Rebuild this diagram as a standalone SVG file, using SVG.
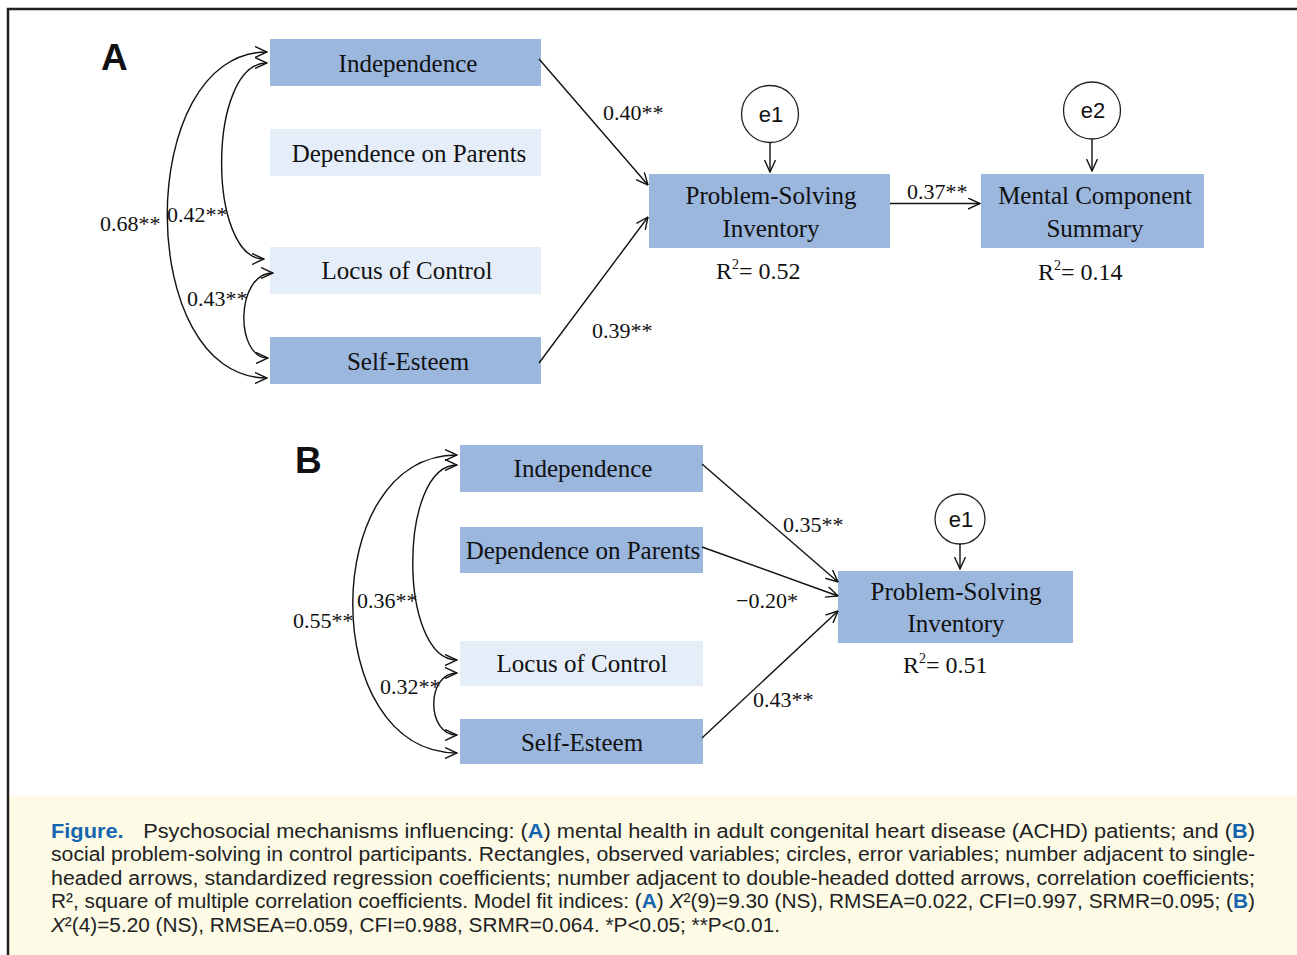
<svg xmlns="http://www.w3.org/2000/svg" width="1297" height="955" viewBox="0 0 1297 955">
<style>
.bx{fill:#9bb7de}
.lt{fill:#e5edf8}
.nt{font-family:"Liberation Serif","Times New Roman",serif;font-size:25px;fill:#111;text-anchor:middle}
.lb{font-family:"Liberation Serif","Times New Roman",serif;font-size:22px;fill:#111}
.r2{font-family:"Liberation Serif","Times New Roman",serif;font-size:24px;fill:#111}
.ec{fill:#fff;stroke:#222;stroke-width:1.3}
.et{font-family:"Liberation Sans",Arial,sans-serif;font-size:22px;fill:#111;text-anchor:middle}
.pl{font-family:"Liberation Sans",Arial,sans-serif;font-size:37px;font-weight:bold;fill:#111}
.cn path,.cn line{fill:none;stroke:#111;stroke-width:1.4}
.cap{font-family:"Liberation Sans",Arial,sans-serif;font-size:20px;fill:#222}
.bl{fill:#1565b0;font-weight:bold}
</style>
<defs>
<marker id="ah" viewBox="0 0 13 12" refX="12.5" refY="6" markerWidth="13" markerHeight="12" markerUnits="userSpaceOnUse" orient="auto-start-reverse">
<path d="M0.5,0.5 L12.5,6 L0.5,11.5" fill="none" stroke="#111" stroke-width="1.4"/>
</marker>
</defs>
<rect x="0" y="0" width="1297" height="955" fill="#fff"/>
<rect x="9" y="796" width="1288" height="159" fill="#fdfbe6"/>
<path d="M1297 9 H8 V955" fill="none" stroke="#222" stroke-width="2.5"/>

<text class="pl" x="101" y="70">A</text>
<text class="pl" x="295" y="473">B</text>

<!-- Panel A nodes -->
<g id="a-independence"><rect class="bx" x="270" y="39" width="271" height="47"/><text class="nt" x="408" y="72">Independence</text></g>
<g id="a-dependence"><rect class="lt" x="270" y="129" width="271" height="47"/><text class="nt" x="409" y="162">Dependence on Parents</text></g>
<g id="a-locus"><rect class="lt" x="270" y="247" width="271" height="47"/><text class="nt" x="407" y="279">Locus of Control</text></g>
<g id="a-selfesteem"><rect class="bx" x="270" y="337" width="271" height="47"/><text class="nt" x="408" y="370">Self-Esteem</text></g>
<g id="a-psi"><rect class="bx" x="649" y="174" width="241" height="74"/><text class="nt" x="771" y="204">Problem-Solving</text><text class="nt" x="771" y="237">Inventory</text><text class="r2" x="716" y="279">R<tspan font-size="14" dy="-10">2</tspan><tspan dy="10">= 0.52</tspan></text></g>
<g id="a-mcs"><rect class="bx" x="981" y="174" width="223" height="74"/><text class="nt" x="1095" y="204">Mental Component</text><text class="nt" x="1095" y="237">Summary</text><text class="r2" x="1038" y="280">R<tspan font-size="14" dy="-10">2</tspan><tspan dy="10">= 0.14</tspan></text></g>
<g id="a-e1"><circle class="ec" cx="770" cy="114" r="28.5"/><text class="et" x="771" y="122">e1</text></g>
<g id="a-e2"><circle class="ec" cx="1092" cy="110.5" r="28.5"/><text class="et" x="1093" y="118">e2</text></g>

<!-- Panel B nodes -->
<g id="b-independence"><rect class="bx" x="460" y="445" width="243" height="47"/><text class="nt" x="583" y="477">Independence</text></g>
<g id="b-dependence"><rect class="bx" x="460" y="527" width="243" height="46"/><text class="nt" x="583" y="559">Dependence on Parents</text></g>
<g id="b-locus"><rect class="lt" x="460" y="641" width="243" height="45"/><text class="nt" x="582" y="672">Locus of Control</text></g>
<g id="b-selfesteem"><rect class="bx" x="460" y="719" width="243" height="45"/><text class="nt" x="582" y="751">Self-Esteem</text></g>
<g id="b-psi"><rect class="bx" x="838" y="571" width="235" height="72"/><text class="nt" x="956" y="600">Problem-Solving</text><text class="nt" x="956" y="632">Inventory</text><text class="r2" x="903" y="673">R<tspan font-size="14" dy="-10">2</tspan><tspan dy="10">= 0.51</tspan></text></g>
<g id="b-e1"><circle class="ec" cx="960" cy="519" r="25"/><text class="et" x="961" y="527">e1</text></g>

<!-- Connectors -->
<g id="connectors" class="cn">
<path d="M267 52 C134 52 134 378 267 378" marker-start="url(#ah)" marker-end="url(#ah)"/>
<path d="M267 63 C207 63 207 259 264 259" marker-start="url(#ah)" marker-end="url(#ah)"/>
<path d="M273 273 C235 273 235 358 268 358" marker-start="url(#ah)" marker-end="url(#ah)"/>
<line x1="539" y1="59" x2="648" y2="185" marker-end="url(#ah)"/>
<line x1="539" y1="363" x2="648" y2="217" marker-end="url(#ah)"/>
<line x1="890" y1="203.5" x2="980" y2="203.5" marker-end="url(#ah)"/>
<line x1="770" y1="142.5" x2="770" y2="172" marker-end="url(#ah)"/>
<line x1="1092" y1="139" x2="1092" y2="171" marker-end="url(#ah)"/>

<path d="M457 455 C318 455 318 753 457 753" marker-start="url(#ah)" marker-end="url(#ah)"/>
<path d="M457 465 C398 465 398 660 457 660" marker-start="url(#ah)" marker-end="url(#ah)"/>
<path d="M457 673 C426 673 426 735 457 735" marker-start="url(#ah)" marker-end="url(#ah)"/>
<line x1="702" y1="464" x2="838" y2="582" marker-end="url(#ah)"/>
<line x1="702" y1="547" x2="838" y2="596" marker-end="url(#ah)"/>
<line x1="702" y1="738" x2="838" y2="611" marker-end="url(#ah)"/>
<line x1="960" y1="544" x2="960" y2="569" marker-end="url(#ah)"/>
</g>

<!-- Labels -->
<g id="labels">
<text class="lb" x="603" y="120">0.40**</text>
<text class="lb" x="592" y="338">0.39**</text>
<text class="lb" x="907" y="199">0.37**</text>
<text class="lb" x="100" y="231">0.68**</text>
<text class="lb" x="167" y="222">0.42**</text>
<text class="lb" x="187" y="306">0.43**</text>
<text class="lb" x="783" y="532">0.35**</text>
<text class="lb" x="736" y="608">−0.20*</text>
<text class="lb" x="753" y="707">0.43**</text>
<text class="lb" x="293" y="628">0.55**</text>
<text class="lb" x="357" y="608">0.36**</text>
<text class="lb" x="380" y="694">0.32**</text>
</g>

<!-- Caption -->
<g id="caption" class="cap">
<text x="51" y="838" textLength="1204" lengthAdjust="spacingAndGlyphs"><tspan class="bl">Figure.</tspan><tspan dx="18">Psychosocial mechanisms influencing: (</tspan><tspan class="bl">A</tspan>) mental health in adult congenital heart disease (ACHD) patients; and (<tspan class="bl">B</tspan>)</text>
<text x="51" y="861" textLength="1204" lengthAdjust="spacingAndGlyphs">social problem-solving in control participants. Rectangles, observed variables; circles, error variables; number adjacent to single-</text>
<text x="51" y="884.5" textLength="1204" lengthAdjust="spacingAndGlyphs">headed arrows, standardized regression coefficients; number adjacent to double-headed dotted arrows, correlation coefficients;</text>
<text x="51" y="908" textLength="1204" lengthAdjust="spacingAndGlyphs">R², square of multiple correlation coefficients. Model fit indices: (<tspan class="bl">A</tspan>) <tspan font-style="italic">X</tspan>²(9)=9.30 (NS), RMSEA=0.022, CFI=0.997, SRMR=0.095; (<tspan class="bl">B</tspan>)</text>
<text x="51" y="931.5" textLength="729" lengthAdjust="spacingAndGlyphs"><tspan font-style="italic">X</tspan>²(4)=5.20 (NS), RMSEA=0.059, CFI=0.988, SRMR=0.064. *P&lt;0.05; **P&lt;0.01.</text>
</g>
</svg>
